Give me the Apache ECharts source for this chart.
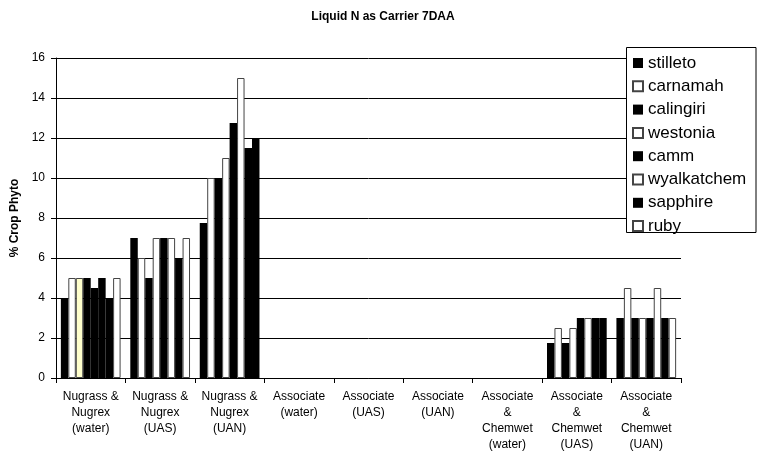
<!DOCTYPE html>
<html>
<head>
<meta charset="utf-8">
<script src="https://cdn.jsdelivr.net/npm/echarts@6/dist/echarts.min.js"></script>
<style>html,body{margin:0;padding:0;background:#fff}#c{width:757px;height:457px}</style>
</head>
<body>
<div id="c"></div>
<script>
const categories = [
  "Nugrass &\nNugrex\n(water)", "Nugrass &\nNugrex\n(UAS)", "Nugrass &\nNugrex\n(UAN)",
  "Associate\n(water)", "Associate\n(UAS)", "Associate\n(UAN)",
  "Associate\n&\nChemwet\n(water)", "Associate\n&\nChemwet\n(UAS)", "Associate\n&\nChemwet\n(UAN)"
];
const seriesNames = ["stilleto", "carnamah", "calingiri", "westonia", "camm", "wyalkatchem", "sapphire", "ruby"];
const stilleto    = [4,   7, 7.75,  0, 0, 0, 0, 1.75, 3];
const carnamah    = [5,   6, 10,    0, 0, 0, 0, 2.5,  4.5];
const calingiri   = [5,   5, 10,    0, 0, 0, 0, 1.75, 3];
const westonia    = [5,   7, 11,    0, 0, 0, 0, 2.5,  3];
const camm        = [4.5, 7, 12.75, 0, 0, 0, 0, 3,    3];
const wyalkatchem = [5,   7, 15,    0, 0, 0, 0, 3,    4.5];
const sapphire    = [4,   6, 11.5,  0, 0, 0, 0, 3,    3];
const ruby        = [5,   7, 12,    0, 0, 0, 0, 3,    3];
const yTicks = [0, 2, 4, 6, 8, 10, 12, 14, 16];

const values = [stilleto, carnamah, calingiri, westonia, camm, wyalkatchem, sapphire, ruby];
const baseColors = ["#000", "#fff", "#000", "#fff", "#000", "#fff", "#000", "#fff"];
// individual point colour overrides seen in the picture
const overrides = { 2: {0: "#FFFFCC"}, 3: {0: "#000"}, 5: {0: "#000"}, 7: {2: "#000", 7: "#000"} };

function styleFor(color, v) {
  const dark = color === "#000";
  return { color: color, borderColor: dark ? "#000" : "#444", borderWidth: (dark || v === 0) ? 0 : 1 };
}

const series = seriesNames.map((name, si) => ({
  name: name,
  type: "bar",
  barGap: "0%",
  barCategoryGap: "14%",
  itemStyle: styleFor(baseColors[si], 1),
  data: values[si].map((v, ci) => {
    const o = overrides[si] && overrides[si][ci];
    const c = o || baseColors[si];
    return { value: v, itemStyle: styleFor(c, v) };
  })
}));

const chart = echarts.init(document.getElementById("c"), null, { renderer: "canvas" });
chart.setOption({
  animation: false,
  backgroundColor: "#fff",
  textStyle: { fontFamily: "Liberation Sans, Arial, sans-serif" },
  title: {
    text: "Liquid N as Carrier 7DAA",
    left: 378, textAlign: "center", top: 6,
    textStyle: { fontSize: 12, fontWeight: "bold", color: "#000", fontFamily: "Liberation Sans" }
  },
  grid: { left: 56, right: 76, top: 58, bottom: 79, containLabel: false },
  xAxis: {
    type: "category",
    data: categories,
    axisLine: { lineStyle: { color: "#000", width: 1 } },
    axisTick: { show: true, length: 5, lineStyle: { color: "#000" } },
    axisLabel: { interval: 0, margin: 11, fontSize: 12, lineHeight: 16, color: "#000", fontFamily: "Liberation Sans" }
  },
  yAxis: {
    type: "value",
    min: 0, max: 16, interval: 2,
    name: "% Crop Phyto",
    nameLocation: "middle",
    nameGap: 32,
    nameTextStyle: { fontSize: 12, fontWeight: "bold", color: "#000", fontFamily: "Liberation Sans" },
    axisLine: { show: true, lineStyle: { color: "#000", width: 1 } },
    axisTick: { show: true, length: 5, lineStyle: { color: "#000" } },
    axisLabel: { margin: 11, fontSize: 12, color: "#000", fontFamily: "Liberation Sans",
      formatter: v => yTicks.includes(v) ? String(v) : "" },
    splitLine: { show: true, lineStyle: { color: "#000", width: 1 } }
  },
  graphic: [{
    type: "rect", z: 3,
    shape: { x: 626.5, y: 47.5, width: 129.5, height: 185 },
    style: { fill: "#fff", stroke: "#000", lineWidth: 1 }
  }],
  legend: {
    z: 10,
    orient: "vertical",
    left: 627, top: 49,
    itemWidth: 10, itemHeight: 10,
    itemGap: 5.3,
    icon: "rect",
    textStyle: { fontSize: 17, lineHeight: 18, color: "#000", fontFamily: "Liberation Sans" },
    data: seriesNames
  },
  series: series
});
</script>
</body>
</html>
